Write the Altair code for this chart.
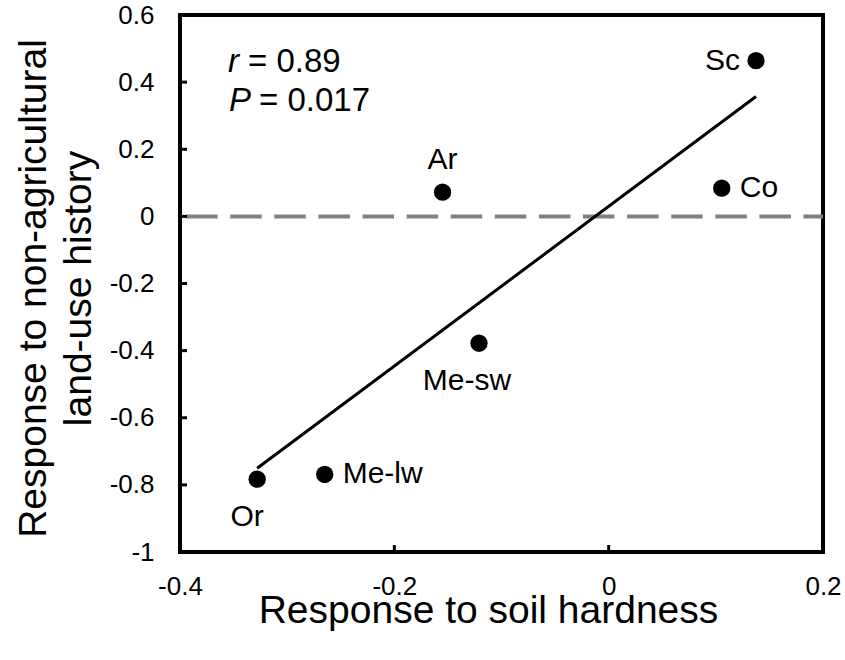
import altair as alt
import pandas as pd

# Species responses: soil hardness (x) vs non-agricultural land-use history (y)
species = ["Sc", "Co", "Ar", "Me-sw", "Me-lw", "Or"]
soil_hardness = [0.1375, 0.1055, -0.155, -0.121, -0.265, -0.328]
land_use = [0.464, 0.084, 0.072, -0.378, -0.769, -0.783]

x_ticks = [-0.4, -0.2, 0.0, 0.2]
y_ticks = [-1.0, -0.8, -0.6, -0.4, -0.2, 0.0, 0.2, 0.4, 0.6]

r_value = "0.89"
p_value = "0.017"

FONT = "Liberation Sans"
W, H = 643, 537

df = pd.DataFrame({"label": species, "x": soil_hardness, "y": land_use})

xs = alt.Scale(domain=[-0.4, 0.2], nice=False, zero=False)
ys = alt.Scale(domain=[-1.0, 0.6], nice=False, zero=False)

label_expr = ("datum.value == 0 ? '0' : (datum.value < 0 ? '-' : '') + "
              "(abs(datum.value) == 1 ? '1' : format(abs(datum.value), '.1f'))")

common_axis = dict(domain=False, ticks=False, tickSize=0, grid=False,
                   labelExpr=label_expr, labelFont=FONT, labelFontSize=26,
                   labelColor="black", labelFlush=False, labelOverlap=False,
                   titleFont=FONT, titleFontSize=39, titleFontWeight="normal",
                   titleColor="black", titleBaseline="alphabetic",
                   titleAlign="center")
x_axis = alt.Axis(values=x_ticks, labelPadding=21, titleX=308, titleY=70,
                  **common_axis)
y_axis = alt.Axis(values=y_ticks, labelPadding=26, titleAngle=270,
                  titleX=-135, titleY=273, titleLineHeight=45, **common_axis)

X_TITLE = "Response to soil hardness"
Y_TITLE = ["Response to non-agricultural", "land-use history"]
x_enc = alt.X("x:Q", scale=xs, axis=x_axis, title=X_TITLE)
y_enc = alt.Y("y:Q", scale=ys, axis=y_axis, title=Y_TITLE)

base = alt.Chart(df)

# zero reference line
zero_line = alt.Chart(pd.DataFrame({"y": [0.0]})).mark_rule(
    color="#808080", strokeWidth=4, strokeDash=[31.5, 12.6], strokeDashOffset=38
).encode(y=y_enc, x=alt.value(0), x2=alt.value(W))

fit = base.transform_regression("x", "y").mark_line(
    color="black", strokeWidth=3
).encode(x=x_enc, y=y_enc)

points = base.mark_circle(size=300, color="black", opacity=1).encode(x=x_enc, y=y_enc)

text_style = dict(font=FONT, fontSize=30, color="black")


def labels(names, **kw):
    return base.transform_filter(
        alt.FieldOneOfPredicate(field="label", oneOf=names)
    ).mark_text(**text_style, **kw).encode(x=x_enc, y=y_enc, text="label:N")


lab_left = labels(["Sc"], align="right", baseline="middle", dx=-16)
lab_right = labels(["Co", "Me-lw"], align="left", baseline="middle", dx=18)
lab_above = labels(["Ar"], align="center", baseline="alphabetic", dy=-23)
lab_mesw = labels(["Me-sw"], align="center", baseline="alphabetic", dx=-12, dy=47)
lab_or = labels(["Or"], align="center", baseline="alphabetic", dx=-10, dy=47)

# inward tick marks on the frame
x_tick_marks = alt.Chart(pd.DataFrame({"x": x_ticks})).mark_rule(
    color="black", strokeWidth=3
).encode(x=x_enc, y=alt.value(H), y2=alt.value(H - 7))
y_tick_marks = alt.Chart(pd.DataFrame({"y": y_ticks})).mark_rule(
    color="black", strokeWidth=3
).encode(y=y_enc, x=alt.value(0), x2=alt.value(7))

# correlation statistics
ann_style = dict(font=FONT, fontSize=33, color="black", align="left",
                 baseline="alphabetic")
r_sym = alt.Chart(pd.DataFrame({"t": ["r"]})).mark_text(
    fontStyle="italic", **ann_style).encode(text="t:N", x=alt.value(48), y=alt.value(57))
r_val = alt.Chart(pd.DataFrame({"t": ["= " + r_value]})).mark_text(
    **ann_style).encode(text="t:N", x=alt.value(68), y=alt.value(57))
p_sym = alt.Chart(pd.DataFrame({"t": ["P"]})).mark_text(
    fontStyle="italic", **ann_style).encode(text="t:N", x=alt.value(49), y=alt.value(96))
p_val = alt.Chart(pd.DataFrame({"t": ["= " + p_value]})).mark_text(
    **ann_style).encode(text="t:N", x=alt.value(79), y=alt.value(96))

chart = alt.layer(
    zero_line, fit, points, lab_left, lab_right, lab_above, lab_mesw, lab_or,
    x_tick_marks, y_tick_marks, r_sym, r_val, p_sym, p_val,
).properties(
    width=W, height=H,
    padding={"left": 180, "top": 15, "right": 22, "bottom": 108},
    autosize=alt.AutoSizeParams(type="none"),
    background="white",
).configure_view(stroke="black", strokeWidth=4)

chart.save("out.html", embed_options={"renderer": "svg", "actions": False})
